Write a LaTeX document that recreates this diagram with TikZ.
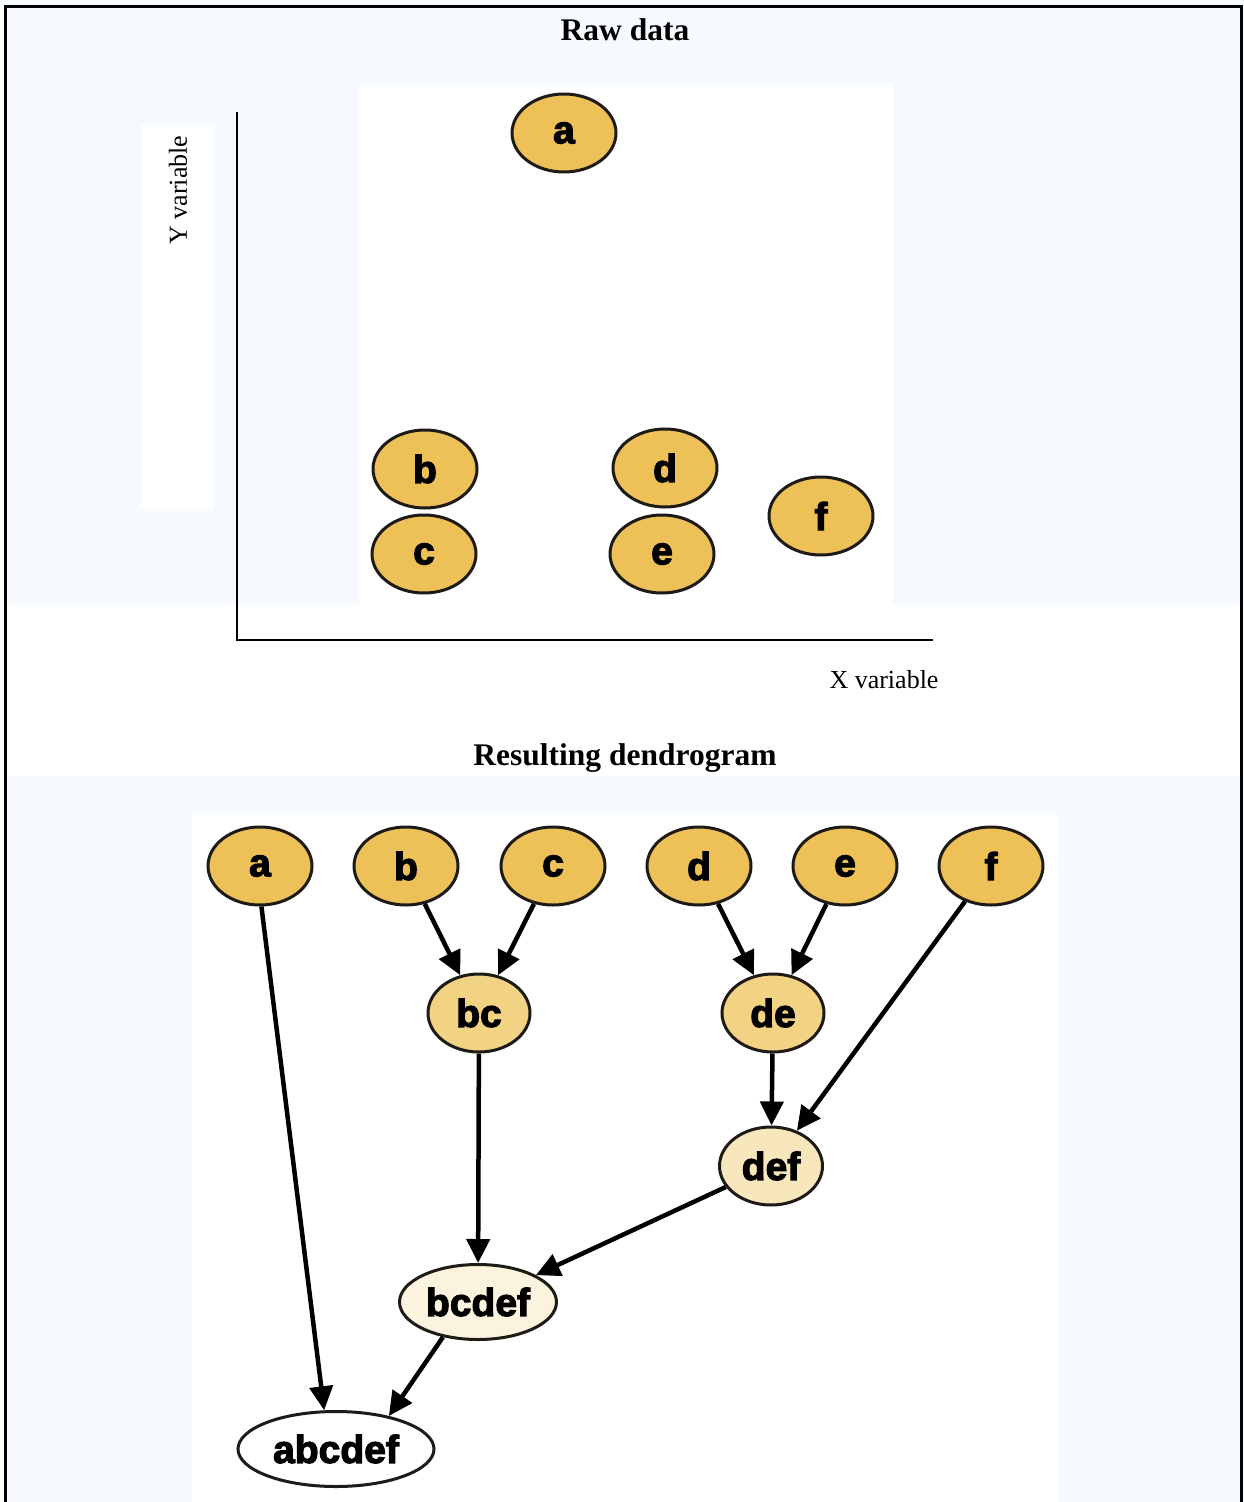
\documentclass[tikz,border=0pt]{standalone}
\usepackage{fontspec}
\setmainfont{Liberation Serif}
\newfontfamily\nodefont[BoldFeatures={FakeBold=3}]{Liberation Sans}
\usetikzlibrary{shapes.geometric,arrows.meta}
\definecolor{paleblue}{HTML}{F6FAFE}
\definecolor{gold}{HTML}{EDC158}
\definecolor{goldmid}{HTML}{F2D283}
\definecolor{goldlight}{HTML}{F8E7BC}
\definecolor{cream}{HTML}{FBF3DE}
\definecolor{edge}{HTML}{1E1A16}
\tikzset{
  blob/.style={ellipse, draw=edge, line width=3pt, fill=gold,
    minimum width=104pt, minimum height=78pt, inner sep=0pt,
    font=\nodefont\bfseries\fontsize{39}{39}\selectfont},
  merge/.style={line width=4.5pt, draw=black,
    -{Triangle[length=24pt,width=23pt]}},
  heading/.style={font=\bfseries\fontsize{31.5}{36}\selectfont},
  axislabel/.style={font=\fontsize{26}{30}\selectfont},
  axis/.style={line width=2pt, draw=black}
}
\begin{document}
\begin{tikzpicture}[x=1pt,y=-1pt]
% page and panels
\useasboundingbox (0,0) rectangle (1244,1502);
\fill[paleblue] (0,0) rectangle (1244,1502);
\fill[white] (0,605) rectangle (1244,776);
\fill[white] (359,85) rectangle (893,605);
\fill[white] (141,125) rectangle (214,509);
\fill[white] (192,813) rectangle (1058,1502);
\fill[white] (0,6) rectangle (4,1502);
\draw[line width=3pt] (5,1502) -- (5,6) -- (1241,6) -- (1241,1502);

% headings
\node[heading] (raw) at (625,30) {Raw data};
\node[heading] (dendro) at (625,758) {Resulting dendrogram};

% scatter plot axes
\coordinate (ytop) at (237,112);
\coordinate (xend) at (933,640);
\draw[axis] (ytop) |- (xend);
\node[axislabel, rotate=90] (ylab) at (178,190) {Y variable};
\node[axislabel] (xlab) at (884,680) {X variable};

% scatter points
\node[blob] (pa) at (564,133) {a};
\node[blob] (pb) at (425,469) {b};
\node[blob] (pc) at (424,554) {c};
\node[blob] (pd) at (665,468) {d};
\node[blob] (pe) at (662,554) {e};
\node[blob] (pf) at (821,516) {f};

% dendrogram leaves
\node[blob] (a) at (260,866) {a};
\node[blob] (b) at (406,866) {b};
\node[blob] (c) at (553,866) {c};
\node[blob] (d) at (699,866) {d};
\node[blob] (e) at (845,866) {e};
\node[blob] (f) at (991,866) {f};

% merged clusters
\node[blob, fill=goldmid, minimum width=102pt] (bc) at (479,1013) {bc};
\node[blob, fill=goldmid, minimum width=102pt] (de) at (773,1013) {de};
\node[blob, fill=goldlight, minimum width=103pt] (def) at (771,1166) {def};
\node[blob, fill=cream, minimum width=157pt, minimum height=75pt] (bcdef) at (478,1302) {bcdef};
\node[blob, fill=white, minimum width=196pt, minimum height=75pt] (abcdef) at (336,1449) {abcdef};

% merges
\draw[merge] (b) -- (bc);
\draw[merge] (c) -- (bc);
\draw[merge] (d) -- (de);
\draw[merge] (e) -- (de);
\draw[merge] (de) -- (def);
\draw[merge] (f) -- (def);
\draw[merge] (bc) -- (bcdef);
\draw[merge] (def) -- (bcdef);
\draw[merge] (bcdef.225) -- (abcdef.32);
\draw[merge] (a.-88) -- (abcdef.107);
\end{tikzpicture}
\end{document}
